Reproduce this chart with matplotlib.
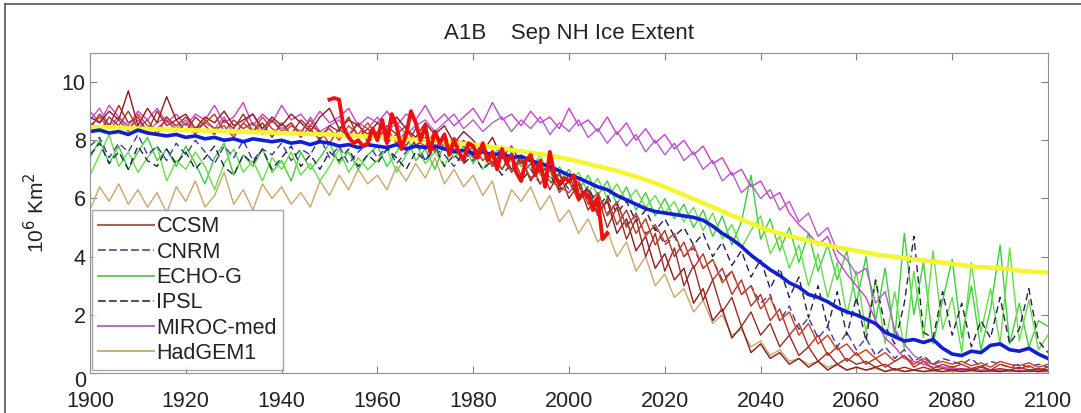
import numpy as np
import matplotlib
matplotlib.use("Agg")
import matplotlib.pyplot as plt
from matplotlib.lines import Line2D
from matplotlib.transforms import ScaledTranslation

plt.rcParams['font.family'] = ['Liberation Sans', 'DejaVu Sans']

# model runs, every 2 years 1900..2100
yrs = np.arange(1900, 2101, 2)

ccsm1 = [8.8, 8.6, 9.0, 8.7, 9.7, 8.5, 9.1, 8.6, 9.5, 8.7,
         8.9, 8.4, 8.8, 8.6, 9.0, 8.5, 8.7, 8.9, 8.4, 8.8,
         8.5, 8.9, 8.6, 8.3, 8.8, 9.1, 8.4, 8.7, 8.5, 8.2,
         8.6, 8.3, 8.8, 8.4, 8.1, 8.6, 8.2, 8.5, 7.9, 8.3,
         8.0, 7.6, 8.1, 7.4, 7.8, 7.2, 7.5, 6.9, 7.1, 6.4,
         6.8, 6.0, 6.3, 5.5, 5.9, 4.8, 5.3, 4.2, 4.7, 3.6,
         4.1, 3.2, 3.6, 2.4, 2.9, 1.8, 2.2, 1.2, 1.6, 0.7,
         1.0, 0.5, 0.7, 0.3, 0.5, 0.2, 0.4, 0.1, 0.3, 0.1,
         0.2, 0.1, 0.2, 0.05, 0.15, 0.05, 0.1, 0.05, 0.1, 0.05,
         0.1, 0.05, 0.1, 0.05, 0.08, 0.05, 0.1, 0.05, 0.08, 0.05, 0.1]
ccsm2 = [8.4, 8.9, 8.5, 9.2, 8.6, 8.8, 8.3, 9.0, 8.5, 8.7,
         8.3, 8.8, 8.5, 8.2, 8.7, 8.4, 8.9, 8.3, 8.6, 8.1,
         8.6, 8.2, 8.7, 8.4, 8.0, 8.5, 8.3, 8.8, 8.1, 8.4,
         8.0, 8.5, 8.2, 7.8, 8.4, 8.0, 7.7, 8.2, 7.6, 8.0,
         7.5, 7.9, 7.2, 7.6, 7.0, 7.4, 6.6, 7.1, 6.3, 6.9,
         6.0, 6.5, 5.6, 6.1, 5.0, 5.7, 4.6, 5.3, 4.0, 4.8,
         3.5, 4.3, 3.0, 3.7, 2.5, 3.2, 2.1, 2.6, 1.6, 2.1,
         1.3, 1.7, 0.9, 1.3, 0.6, 0.9, 0.4, 0.7, 0.3, 0.5,
         0.3, 0.4, 0.2, 0.3, 0.1, 0.2, 0.1, 0.2, 0.1, 0.15,
         0.1, 0.15, 0.1, 0.2, 0.1, 0.15, 0.1, 0.2, 0.1, 0.15, 0.1]
ccsm3 = [8.6, 8.3, 8.8, 8.5, 9.0, 8.4, 8.7, 8.2, 8.8, 8.5,
         8.8, 8.4, 8.6, 8.9, 8.3, 8.7, 8.4, 8.6, 8.2, 8.7,
         8.3, 8.6, 8.1, 8.5, 8.3, 7.9, 8.4, 8.1, 8.6, 7.9,
         8.3, 7.9, 8.2, 8.5, 7.8, 8.1, 7.6, 8.0, 7.7, 7.4,
         7.8, 7.3, 7.6, 7.0, 7.5, 6.8, 7.2, 6.5, 7.0, 6.2,
         6.6, 5.9, 6.3, 5.4, 6.0, 5.1, 5.6, 4.8, 5.3, 4.4,
         4.9, 4.0, 4.5, 3.6, 4.1, 3.2, 3.6, 2.7, 3.2, 2.3,
         2.7, 1.8, 2.2, 1.3, 1.7, 0.9, 1.3, 0.6, 0.9, 0.4,
         0.7, 0.3, 0.5, 0.2, 0.4, 0.6, 0.2, 0.4, 0.15, 0.3,
         0.2, 0.3, 0.15, 0.25, 0.1, 0.3, 0.2, 0.15, 0.25, 0.1, 0.2]
ccsm4 = [8.5, 8.8, 8.4, 8.7, 8.3, 8.9, 8.5, 8.4, 8.7, 8.3,
         8.6, 8.2, 8.7, 8.4, 8.5, 8.1, 8.6, 8.3, 8.8, 8.4,
         8.2, 8.5, 8.3, 8.7, 8.2, 8.4, 8.0, 8.5, 8.2, 8.6,
         8.1, 8.4, 7.9, 8.3, 8.0, 7.8, 8.3, 7.7, 8.1, 7.8,
         7.4, 7.8, 7.1, 7.5, 6.9, 7.3, 6.7, 7.0, 6.6, 6.4,
         6.2, 6.6, 5.8, 6.2, 5.4, 5.9, 5.0, 5.5, 4.7, 5.1,
         4.5, 4.8, 4.0, 4.4, 3.6, 3.9, 3.1, 3.5, 2.7, 3.0,
         2.2, 2.6, 1.8, 2.1, 1.3, 1.7, 1.0, 1.3, 0.8, 1.0,
         0.6, 0.8, 0.5, 0.7, 0.4, 0.6, 0.3, 0.5, 0.3, 0.4,
         0.3, 0.4, 0.25, 0.35, 0.2, 0.4, 0.3, 0.25, 0.35, 0.2, 0.3]
cnrm = [7.8, 8.1, 7.4, 7.9, 7.6, 8.2, 7.5, 7.8, 7.3, 7.9,
        7.5, 8.0, 7.6, 7.2, 7.8, 7.4, 8.0, 7.3, 7.7, 7.5,
        7.9, 7.3, 7.7, 7.5, 8.1, 7.4, 7.8, 7.2, 7.6, 7.9,
        7.4, 7.8, 7.2, 7.6, 8.0, 7.3, 7.7, 7.5, 7.1, 7.6,
        7.3, 7.7, 7.1, 7.4, 6.9, 7.3, 6.7, 7.0, 6.5, 6.8,
        6.3, 6.6, 5.9, 6.2, 5.5, 5.8, 5.1, 5.4, 4.8, 5.0,
        4.4, 4.7, 4.0, 4.3, 3.6, 3.9, 3.2, 3.5, 2.7, 3.0,
        2.4, 2.7, 1.8, 2.3, 1.5, 1.9, 1.2, 1.6, 0.9, 1.4,
        0.8, 1.2, 0.6, 0.9, 0.5, 0.8, 0.4, 0.6, 0.3, 0.5,
        0.4, 0.3, 0.5, 0.2, 0.4, 0.3, 0.2, 0.3, 0.2, 0.3, 0.2]
echo1 = [7.4, 8.0, 7.2, 7.8, 7.0, 7.6, 8.1, 7.3, 7.7, 7.1,
         7.8, 7.2, 6.5, 7.4, 7.9, 6.8, 7.5, 7.1, 7.7, 6.9,
         7.3, 6.6, 7.6, 7.0, 7.4, 7.9, 7.2, 7.6, 7.0, 7.5,
         7.8, 7.1, 7.6, 8.2, 7.3, 7.7, 7.0, 7.9, 7.4, 7.8,
         7.2, 7.7, 7.4, 7.0, 7.6, 7.1, 7.5, 6.8, 7.3, 6.6,
         7.0, 6.3, 6.8, 6.1, 6.6, 5.8, 6.4, 5.6, 6.2, 5.4,
         6.0, 5.3, 5.8, 5.0, 5.6, 4.7, 5.4, 4.4, 5.2, 6.8,
         4.6, 5.3, 4.2, 5.0, 3.8, 4.8, 3.5, 4.4, 3.2, 4.2,
         2.4, 4.0, 1.8, 3.6, 1.2, 4.8, 2.0, 3.8, 1.0, 2.5,
         3.9, 1.2, 3.0, 0.8, 2.2, 4.4, 1.0, 2.4, 0.9, 1.8, 1.6]
echo2 = [6.8, 7.5, 8.2, 7.1, 7.6, 6.9, 7.4, 7.8, 6.6, 7.3,
         7.0, 7.6, 7.1, 6.3, 7.2, 7.7, 6.9, 7.3, 6.6, 7.4,
         7.0, 7.6, 6.8, 7.2, 6.6, 7.1, 7.7, 6.9, 7.4, 7.0,
         7.3, 7.7, 6.9, 7.5, 7.9, 7.2, 7.6, 7.1, 8.0, 7.4,
         7.6, 7.0, 7.5, 7.8, 6.9, 7.4, 7.0, 7.5, 6.7, 7.1,
         6.5, 6.9, 6.2, 6.7, 6.0, 6.5, 5.9, 6.3, 5.7, 6.1,
         5.5, 5.9, 5.2, 5.7, 4.9, 5.5, 4.6, 5.1, 4.3, 4.9,
         5.4, 4.1, 4.7, 3.6, 4.4, 3.0, 4.1, 2.6, 3.8, 2.0,
         3.5, 1.4, 3.2, 1.0, 2.8, 0.8, 3.5, 1.2, 4.2, 1.5,
         2.6, 0.7, 3.8, 1.4, 2.9, 1.0, 4.3, 1.1, 2.5, 0.8, 1.3]
ipsl = [7.5, 7.9, 7.2, 7.6, 7.0, 7.8, 7.3, 7.1, 7.7, 7.2,
        7.6, 7.0, 7.4, 7.8, 7.1, 6.8, 7.5, 7.2, 7.7, 7.0,
        7.4, 7.8, 7.1, 7.5, 7.0, 7.6, 7.3, 7.7, 7.1, 7.5,
        7.2, 7.7, 7.4, 7.0, 7.6, 7.3, 7.8, 7.1, 7.5, 7.2,
        7.5, 7.0, 7.3, 6.8, 7.2, 6.6, 7.0, 6.5, 6.8, 6.3,
        6.6, 6.0, 6.4, 5.7, 6.1, 5.5, 5.9, 5.2, 5.6, 4.9,
        5.3, 4.7, 5.0, 4.4, 4.8, 4.0, 4.5, 3.7, 4.2, 3.3,
        3.9, 2.9, 3.6, 2.6, 3.3, 1.9, 3.0, 1.6, 2.8, 1.3,
        2.6, 1.1, 3.2, 1.6, 1.0, 2.4, 4.7, 1.4, 1.2, 2.8,
        1.3, 2.4, 0.9, 1.8, 1.2, 2.6, 1.0, 1.5, 2.9, 1.1, 0.7]
miroc1 = [9.0, 8.6, 9.2, 8.8, 8.5, 9.0, 8.7, 9.1, 8.6, 8.9,
          8.5, 8.9, 8.7, 9.2, 8.6, 8.8, 9.3, 8.5, 8.9, 8.6,
          9.2, 8.7, 8.9, 8.5, 9.0, 8.6, 8.8, 9.1, 8.5, 8.8,
          8.6, 9.0, 8.5, 8.9, 8.7, 9.2, 8.6, 8.9, 8.5, 8.8,
          9.1, 8.6, 9.3, 8.7, 8.9, 8.5, 9.0, 8.6, 8.8, 8.4,
          9.1, 8.5, 8.7, 8.3, 8.8, 8.2, 8.6, 8.0, 8.4, 7.9,
          8.2, 7.7, 8.0, 7.5, 7.8, 7.2, 7.4, 6.8, 7.0, 6.4,
          6.6, 6.0, 6.2, 5.5, 5.1, 4.8, 4.4, 4.7, 3.9, 3.4,
          3.0, 2.6, 1.8, 1.2, 0.9, 0.5, 0.4, 0.3, 0.2, 0.2,
          0.15, 0.1, 0.15, 0.1, 0.1, 0.05, 0.1, 0.05, 0.1, 0.05, 0.05]
miroc2 = [8.7, 9.1, 8.5, 8.8, 8.4, 8.7, 8.3, 8.6, 8.8, 8.4,
          8.7, 8.3, 8.6, 8.4, 8.8, 8.2, 8.6, 8.9, 8.3, 8.7,
          8.4, 8.6, 8.2, 8.8, 8.3, 8.5, 8.7, 8.2, 8.6, 8.4,
          8.8, 8.3, 8.6, 8.2, 8.5, 8.7, 8.3, 8.6, 8.9, 8.4,
          8.7, 8.3, 8.6, 8.8, 8.3, 8.7, 8.4, 8.8, 8.2, 8.6,
          8.3, 8.7, 8.1, 8.4, 7.9, 8.3, 7.8, 8.2, 7.6, 8.0,
          7.5, 7.9, 7.3, 7.6, 7.0, 7.3, 6.6, 6.9, 6.2, 6.5,
          6.0, 6.3, 5.6, 5.9, 5.2, 5.5, 4.7, 5.0, 4.2, 3.9,
          3.4, 3.6, 2.4, 2.8, 1.5, 1.0, 0.6, 0.4, 0.3, 0.2,
          0.2, 0.1, 0.15, 0.1, 0.05, 0.1, 0.05, 0.1, 0.05, 0.1, 0.05]
hadgem = [5.6, 6.4, 5.9, 6.5, 5.8, 6.3, 5.7, 6.2, 5.5, 6.4,
          5.9, 6.6, 5.7, 6.1, 6.9, 5.8, 6.3, 5.6, 6.5, 6.0,
          6.4, 5.8, 6.2, 5.7, 6.6, 6.1, 6.8, 6.3, 7.0, 6.5,
          6.8, 6.3, 7.1, 6.6, 7.2, 6.7, 7.4, 6.5, 7.0, 6.4,
          6.8, 6.1, 6.6, 5.4, 6.3, 5.9, 6.4, 5.6, 6.1, 5.2,
          5.6, 4.8, 5.3, 4.5, 4.9, 4.0, 4.5, 3.5, 4.0, 3.0,
          3.4, 2.6, 2.9, 2.1, 2.5, 1.7, 2.0, 1.3, 1.5, 0.9,
          1.1, 0.6, 0.8, 0.4, 0.5, 0.3, 0.4, 0.2, 0.3, 0.1,
          0.2, 0.1, 0.15, 0.05, 0.1, 0.05, 0.1, 0.05, 0.05, 0.05,
          0.05, 0.05, 0.05, 0.05, 0.05, 0.05, 0.05, 0.05, 0.05, 0.05, 0.05]

# multi-model mean (blue), every 2 years
ens_mean = [8.30, 8.35, 8.25, 8.30, 8.20, 8.35, 8.25, 8.20, 8.15, 8.20,
            8.10, 8.15, 8.05, 8.10, 8.00, 8.05, 7.95, 8.05, 8.00, 7.95,
            8.00, 7.90, 7.95, 7.85, 7.95, 7.90, 7.80, 7.85, 7.75, 7.85,
            7.80, 7.75, 7.85, 7.70, 7.80, 7.75, 7.80, 7.70, 7.60, 7.65,
            7.55, 7.60, 7.50, 7.55, 7.40, 7.45, 7.30, 7.20, 7.10, 6.95,
            6.80, 6.70, 6.55, 6.40, 6.30, 6.10, 5.95, 5.80, 5.65, 5.55,
            5.50, 5.45, 5.40, 5.35, 5.25, 5.05, 4.80, 4.60, 4.35, 4.05,
            3.80, 3.55, 3.35, 3.10, 2.95, 2.70, 2.60, 2.45, 2.25, 2.10,
            2.00, 1.85, 1.70, 1.40, 1.25, 1.10, 1.15, 1.05, 1.15, 0.85,
            0.65, 0.60, 0.75, 0.70, 0.95, 1.00, 0.80, 0.75, 0.85, 0.65, 0.50]

# yellow curve, every 5 years
yrs5 = np.arange(1900, 2101, 5)
yellow = [8.45, 8.45, 8.40, 8.38, 8.35, 8.33, 8.30, 8.28, 8.25, 8.22,
          8.20, 8.15, 8.12, 8.05, 8.00, 7.92, 7.85, 7.75, 7.62, 7.50,
          7.35, 7.15, 6.95, 6.70, 6.40, 6.05, 5.70, 5.35, 5.00, 4.75,
          4.55, 4.35, 4.20, 4.05, 3.95, 3.85, 3.75, 3.65, 3.60, 3.50,
          3.45]

# observations (thick red), yearly 1950..2008
obs_yrs = np.arange(1950, 2009)
obs = [9.4, 9.45, 9.4, 8.4, 8.1, 7.9, 8.0, 7.8, 7.9, 8.4,
       8.0, 8.7, 7.9, 8.9, 8.5, 7.7, 8.2, 9.0, 8.6, 8.0,
       8.5, 7.6, 8.3, 7.9, 8.2, 7.5, 8.0, 7.6, 7.3, 7.9,
       7.8, 7.4, 7.9, 7.3, 7.6, 7.0, 7.7, 7.2, 7.5, 6.9,
       6.6, 7.3, 7.5, 6.8, 7.3, 6.4, 7.6, 6.8, 6.5, 6.7,
       6.6, 6.8, 6.0, 6.2, 6.1, 5.6, 6.0, 4.6, 4.8]

models = ['CCSM', 'CNRM', 'ECHO-G', 'IPSL', 'MIROC-med', 'HadGEM1']
legend_cols = ['#a86060', '#6868a8', '#74c474', '#505068', '#b474c4', '#c8b07c']
legend_ls = ['-', '--', '-', '--', '-', '-']

fig = plt.figure(figsize=(10.81, 4.13), dpi=100)
ax = fig.add_axes([90/1081, 1 - 373/413, 958/1081, 320/413])

ax.plot(yrs, hadgem, color='#c9a66b', lw=1.0)
ax.plot(yrs, echo1, color='#3ccf3c', lw=1.0)
ax.plot(yrs, echo2, color='#66dd44', lw=1.0)
ax.plot(yrs, cnrm, color='#3c3c9c', lw=1.0, ls=(0, (5, 3)))
ax.plot(yrs, ipsl, color='#22224a', lw=1.0, ls=(0, (5, 3)))
ax.plot(yrs, miroc1, color='#cc3fcc', lw=1.0)
ax.plot(yrs, miroc2, color='#b55ad0', lw=1.0)
ax.plot(yrs, ccsm1, color='#8b1a1a', lw=1.0)
ax.plot(yrs, ccsm2, color='#9c2b22', lw=1.0)
ax.plot(yrs, ccsm3, color='#b03528', lw=1.0)
ax.plot(yrs, ccsm4, color='#cc3d1f', lw=1.0)
ax.plot(yrs5, yellow, color='#f5f530', lw=3.2)
ax.plot(yrs, ens_mean, color='#1020d0', lw=2.6)
ax.plot(obs_yrs, obs, color='#ee1010', lw=2.8)

ax.set_xlim(1900, 2100)
ax.set_ylim(0, 11)
ax.set_xticks(np.arange(1900, 2101, 20))
ax.set_yticks(np.arange(0, 11, 2))
ax.tick_params(direction='in', top=True, right=True, length=5, width=0.8,
               color='#808080', labelsize=15.5, labelcolor='#222222')
ax.tick_params(axis='x', pad=13)
ax.tick_params(axis='y', pad=3)
for s in ax.spines.values():
    s.set_color('#909090')

# the "0" sits a little below its tick, as in the original
lab0 = ax.get_yticklabels()[0]
lab0.set_transform(lab0.get_transform() + ScaledTranslation(0, -4/72, fig.dpi_scale_trans))

ax.set_ylabel('10$^6$ Km$^2$', fontsize=15, color='#222222', labelpad=10)
ax.set_title('A1B    Sep NH Ice Extent', fontsize=16, color='#222222', pad=10)

handles = [Line2D([], [], color=c, ls=l, lw=1.5) for c, l in zip(legend_cols, legend_ls)]
leg = ax.legend(handles, models, loc='lower left', bbox_to_anchor=(0.002, 0.008),
                fontsize=15.5, frameon=True, fancybox=False, handlelength=2.6,
                handletextpad=0.1, labelspacing=0.2, borderpad=0.3, borderaxespad=0)
leg.get_frame().set_edgecolor('#909090')
leg.get_frame().set_linewidth(1.0)
for t in leg.get_texts():
    t.set_color('#222222')

# frame edge of the original picture (left and top)
fig.add_artist(Line2D([5/1081, 5/1081], [0, 1 - 4/413], color='#555555', lw=1.2))
fig.add_artist(Line2D([5/1081, 1], [1 - 4/413, 1 - 4/413], color='#555555', lw=1.2))

fig.savefig('out.png', dpi=100)
